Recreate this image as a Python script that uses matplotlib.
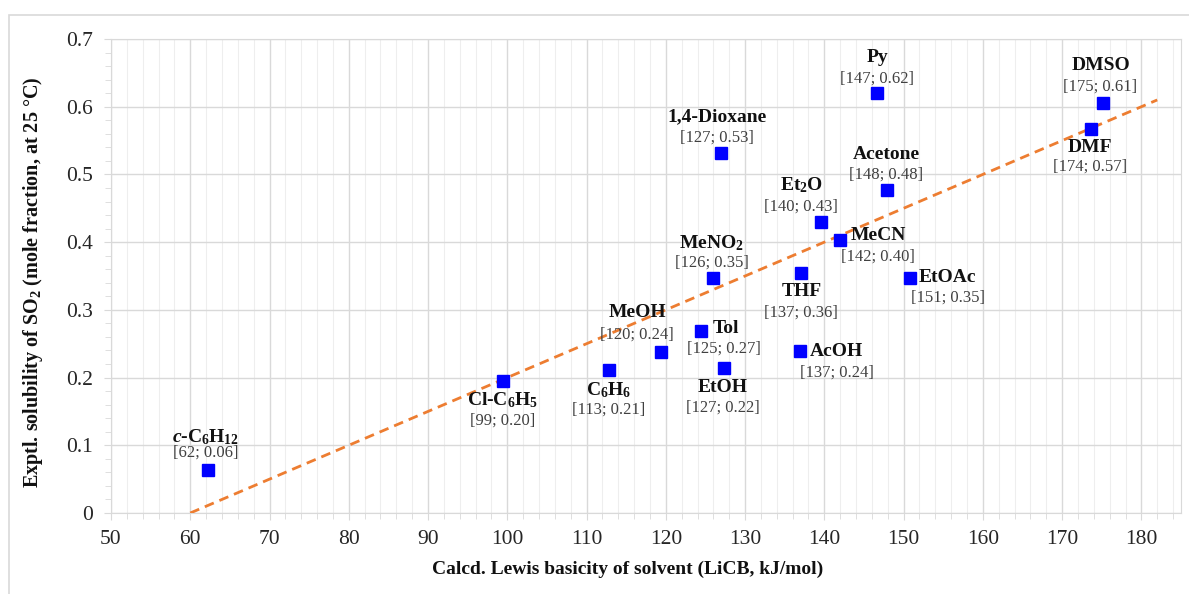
#!/usr/bin/env python3
# SO2 solubility vs calculated Lewis basicity of solvent
import matplotlib
matplotlib.use('Agg')
import matplotlib.pyplot as plt
from matplotlib.patches import Rectangle
from matplotlib.ticker import MultipleLocator

# DATA
names = [r'$\mathbfit{c}$-$\mathbf{C_6H_{12}}$', r'Cl-$\mathbf{C_6H_5}$',
         r'$\mathbf{C_6H_6}$', 'MeOH', 'Tol', 'EtOH', r'$\mathbf{MeNO_2}$',
         '1,4-Dioxane', 'THF', 'AcOH', r'$\mathbf{Et_2O}$', 'MeCN', 'Py', 'Acetone',
         'EtOAc', 'DMF', 'DMSO']
basicity = [62.2, 99.4, 112.8, 119.4, 124.4, 127.4, 125.9, 127.0, 137.1, 136.9,
            139.6, 142.0, 146.7, 147.9, 150.8, 173.6, 175.1]
solubility = [0.064, 0.195, 0.211, 0.238, 0.269, 0.214, 0.347, 0.532, 0.354, 0.239,
              0.430, 0.403, 0.620, 0.477, 0.347, 0.567, 0.606]
values = ['[62; 0.06]', '[99; 0.20]', '[113; 0.21]', '[120; 0.24]', '[125; 0.27]',
          '[127; 0.22]', '[126; 0.35]', '[127; 0.53]', '[137; 0.36]', '[137; 0.24]',
          '[140; 0.43]', '[142; 0.40]', '[147; 0.62]', '[148; 0.48]', '[151; 0.35]',
          '[174; 0.57]', '[175; 0.61]']
trend_x = [60, 182]
trend_y = [0.0, 0.61]

# label placement in pixels: (name dx, name dy, name ha, value dx, value dy)
LABEL_POS = [(-2, 33, 'center', -2, 17), (0, -19, 'center', 0, -40),
             (0, -20, 'center', 0, -40), (-24, 39, 'center', -24, 17),
             (12, 2, 'left', 23, -18), (-2, -19, 'center', -2, -40),
             (-1, 35, 'center', -1, 15), (-4, 36, 'center', -4, 15),
             (0, -18, 'center', 0, -39), (10, 0, 'left', 37, -21),
             (-20, 37, 'center', -20, 15), (10, 5, 'left', 38, -17),
             (0, 36, 'center', 0, 15), (-1, 36, 'center', -1, 15),
             (9, 1, 'left', 38, -20), (-1, -18, 'center', -1, -38),
             (-2, 37, 'center', -2, 16)]

SERIF = 'Liberation Serif'
plt.rcParams['font.family'] = SERIF
plt.rcParams['mathtext.fontset'] = 'custom'
plt.rcParams['mathtext.rm'] = SERIF
plt.rcParams['mathtext.it'] = SERIF + ':italic'
plt.rcParams['mathtext.bf'] = SERIF + ':bold'
try:
    plt.rcParams['mathtext.bfit'] = SERIF + ':italic:bold'
except KeyError:
    pass

GRID = '#d9d9d9'
W, H = 1189, 594
fig = plt.figure(figsize=(W / 100, H / 100), dpi=100)
ax = fig.add_axes([111 / W, 1 - 513 / H, (1181 - 111) / W, (513 - 39) / H])

# outer chart frame (only left and top edges fall inside the image)
fig.add_artist(Rectangle((9 / W, -0.05), 1.1, 1.05 - 15 / H,
                         transform=fig.transFigure, fill=False,
                         edgecolor=GRID, linewidth=1.2))

ax.plot(trend_x, trend_y, color='#ED7D31', linestyle=(0, (3.5, 2.2)), linewidth=2, zorder=3)
ax.plot(basicity, solubility, 's', color='#0000ff', markersize=8, zorder=4)

for i in range(len(names)):
    ndx, ndy, ha, vdx, vdy = LABEL_POS[i]
    ax.annotate(names[i], (basicity[i], solubility[i]), xytext=(ndx, ndy),
                textcoords='offset pixels', ha=ha, va='center', fontsize=14,
                fontweight='bold', color='#111111', zorder=5)
    ax.annotate(values[i], (basicity[i], solubility[i]), xytext=(vdx, vdy),
                textcoords='offset pixels', ha='center', va='center', fontsize=12,
                color='#404040', zorder=5)

ax.set_xlim(50, 185)
ax.set_ylim(0, 0.7)
ax.xaxis.set_major_locator(MultipleLocator(10))
ax.xaxis.set_minor_locator(MultipleLocator(2))
ax.yaxis.set_minor_locator(MultipleLocator(0.02))
ax.set_yticks([0, 0.1, 0.2, 0.3, 0.4, 0.5, 0.6, 0.7])
ax.set_yticklabels(['0', '0.1', '0.2', '0.3', '0.4', '0.5', '0.6', '0.7'])

ax.grid(which='major', color=GRID, linewidth=1)
ax.grid(which='minor', axis='x', color='#eeeeee', linewidth=0.8)
ax.set_axisbelow(True)
for s in ax.spines.values():
    s.set_color(GRID)
ax.tick_params(which='both', colors=GRID, labelcolor='#262626', labelsize=15.5)
ax.tick_params(which='major', length=5)
ax.tick_params(which='minor', length=4)
ax.tick_params(axis='x', pad=7)
ax.tick_params(axis='y', pad=8)

# axis titles placed in figure pixels
fig.text(628 / W, 1 - 569 / H, 'Calcd. Lewis basicity of solvent (LiCB, kJ/mol)',
         ha='center', va='center', fontsize=14, fontweight='bold', color='#111111')
fig.text(33 / W, 1 - 282 / H, r'Exptl. solubility of $\mathbf{SO_2}$ (mole fraction, at 25 °C)',
         ha='center', va='center', rotation=90, fontsize=14.5, fontweight='bold',
         color='#111111')

fig.savefig('out.png', dpi=100)
